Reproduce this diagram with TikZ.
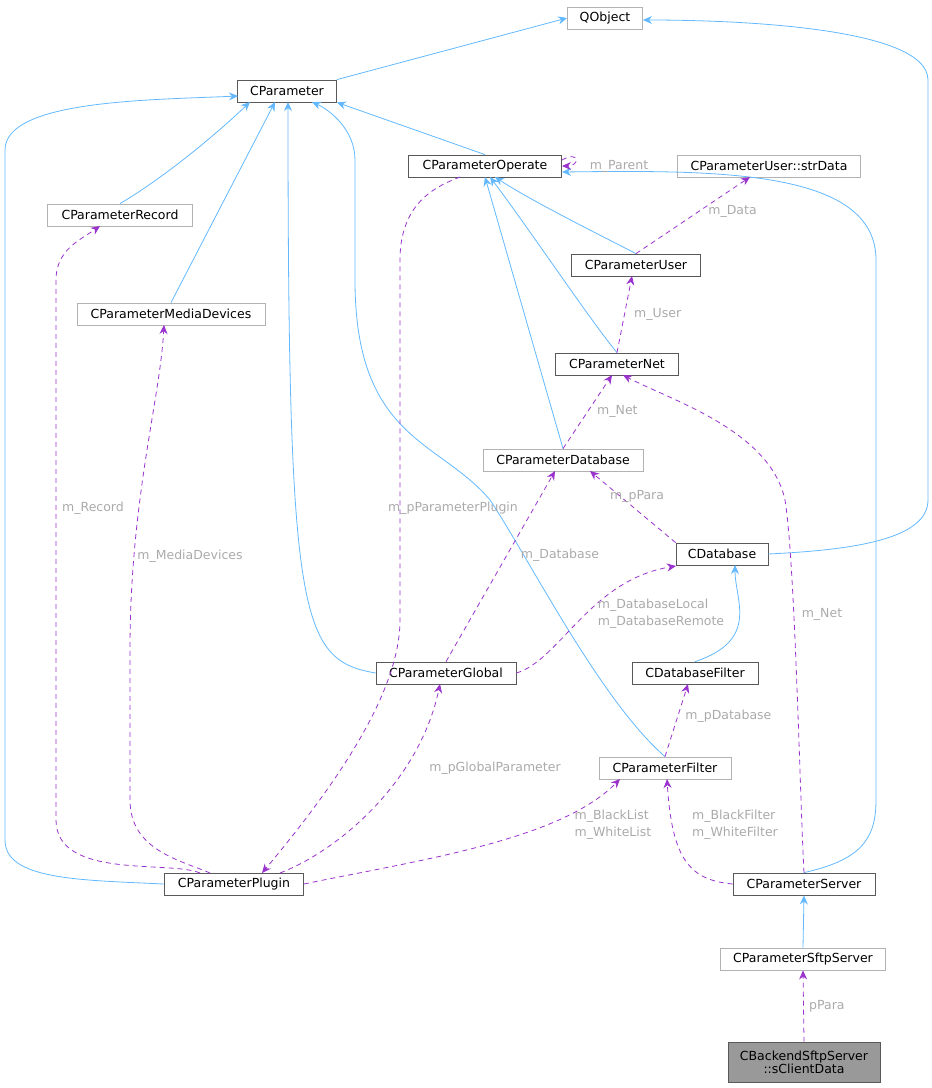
\documentclass[tikz,border=0pt]{standalone}
\usepackage{fontspec}
\setmainfont{DejaVu Sans}
\usetikzlibrary{arrows.meta}
\definecolor{inh}{HTML}{63B8FF}
\definecolor{use}{HTML}{9A32CD}
\definecolor{lab}{HTML}{AAAAAA}
\begin{document}
\begin{tikzpicture}[x=1pt,y=-1pt,
 box/.style={draw=#1,fill=white,minimum height=22pt,inner xsep=5pt,font=\fontsize{12.5}{14}\selectfont,line width=0.8pt},
 box/.default={black!65},
 lt/.style={box=black!30},
 inh/.style={draw=inh,line width=0.8pt,-{Stealth[length=9pt,width=8pt]}},
 use/.style={draw=use,line width=0.8pt,dashed,dash pattern=on 5pt off 4pt,-{Stealth[length=9pt,width=8pt]}},
 lb/.style={text=lab,font=\fontsize{12.5}{15}\selectfont,align=left}]
\useasboundingbox (0,0) rectangle (932,1088);
\node[lt,minimum width=75pt] (qo) at (605,18) {QObject};
\node[box,minimum width=99pt] (cp) at (287,91) {CParameter};
\node[box,minimum width=153pt] (op) at (485,166) {CParameterOperate};
\node[lt,minimum width=183pt] (sd) at (769,166) {CParameterUser::strData};
\node[lt,minimum width=145pt] (rec) at (120,215) {CParameterRecord};
\node[box,minimum width=129pt] (usr) at (636,265) {CParameterUser};
\node[lt,minimum width=188pt] (md) at (171,314) {CParameterMediaDevices};
\node[box,minimum width=123pt] (net) at (617,364) {CParameterNet};
\node[lt,minimum width=160pt] (db) at (563,460) {CParameterDatabase};
\node[box,minimum width=92pt] (cdb) at (722,554) {CDatabase};
\node[box,minimum width=140pt] (gl) at (446,673) {CParameterGlobal};
\node[box,minimum width=126pt] (dbf) at (695,673) {CDatabaseFilter};
\node[lt,minimum width=132pt] (flt) at (665,768) {CParameterFilter};
\node[box,minimum width=139pt] (pl) at (234,884) {CParameterPlugin};
\node[box,minimum width=142pt] (srv) at (804,884) {CParameterServer};
\node[lt,minimum width=165pt] (sftp) at (803,959) {CParameterSftpServer};
\node[box,fill=black!40,minimum width=152pt,minimum height=40pt,align=center,font=\fontsize{12.5}{13}\selectfont] (cd) at (804,1062) {CBackendSftpServer\\::sClientData};
% inheritance
\draw[inh] (cp.north east) -- (qo.west);
\draw[inh] (op.north) -- (cp.south east);
\draw[inh] (rec.north) .. controls (160,180) and (210,140) .. (250,102);
\draw[inh] (md.north) -- (275,102);
\draw[inh] (gl.west) .. controls (300,660) and (288,620) .. (288,102);
\draw[inh] (pl.west) .. controls (80,880) and (5,880) .. (5,840) -- (5,150) .. controls (5,100) and (150,100) .. (238,96);
\draw[inh] (flt.north) .. controls (600,700) and (530,560) .. (490,500) .. controls (440,440) and (355,440) .. (355,280) -- (355,160) .. controls (355,130) and (330,110) .. (312,102);
\draw[inh] (usr.north) .. controls (590,230) and (530,200) .. (495,177);
\draw[inh] (net.north) .. controls (590,320) and (530,230) .. (490,177);
\draw[inh] (db.north) -- (485,177);
\draw[inh] (srv.north) .. controls (860,860) and (876,840) .. (876,800) -- (876,260) .. controls (876,170) and (720,170) .. (562,172);
\draw[inh] (cdb.east) .. controls (850,550) and (928,540) .. (928,500) -- (928,80) .. controls (928,25) and (720,20) .. (643,20);
\draw[inh] (dbf.north) .. controls (760,640) and (735,600) .. (735,565);
\draw[inh] (sftp.north) -- (srv.south);
% usage
\draw[use] (562,160) .. controls (580,150) and (580,166) .. (562,166);
\node[lb] at (619,166) {m\_Parent};
\draw[use] (usr.north) -- (750,177) node[lb,pos=0.55,right=6pt] {m\_Data};
\draw[use] (net.north) -- (632,276) node[lb,midway,right=6pt] {m\_User};
\draw[use] (db.north) -- (612,375) node[lb,midway,right=6pt] {m\_Net};
\draw[use] (cdb.north west) -- (590,471) node[lb,pos=0.45,above=4pt] {m\_pPara};
\draw[use] (srv.north) .. controls (800,800) and (795,560) .. (785,500) .. controls (770,430) and (670,400) .. (623,375);
\node[lb] at (822,614) {m\_Net};
\draw[use] (gl.north) -- (555,471);
\node[lb] at (560,555) {m\_Database};
\draw[use] (gl.east) .. controls (560,660) and (590,580) .. (676,566);
\node[lb] at (661,614) {m\_DatabaseLocal\\[2pt]m\_DatabaseRemote};
\draw[use] (flt.north) -- (688,684) node[lb,pos=0.55,right=4pt] {m\_pDatabase};
\draw[use] (srv.west) .. controls (690,880) and (672,860) .. (667,779);
\node[lb] at (735,825) {m\_BlackFilter\\[2pt]m\_WhiteFilter};
\draw[use] (pl.east) .. controls (420,860) and (560,840) .. (620,779);
\node[lb] at (613,825) {m\_BlackList\\[2pt]m\_WhiteList};
\draw[use] (280,873) .. controls (340,850) and (420,780) .. (440,684);
\node[lb] at (495,768) {m\_pGlobalParameter};
\draw[use] (460,177) .. controls (440,185) and (400,200) .. (400,260) -- (400,620) .. controls (400,690) and (340,780) .. (262,873);
\node[lb] at (453,508) {m\_pParameterPlugin};
\draw[use] (210,873) .. controls (180,860) and (130,850) .. (130,800) -- (130,650) .. controls (130,500) and (160,400) .. (164,325);
\node[lb] at (190,556) {m\_MediaDevices};
\draw[use] (200,873) .. controls (170,860) and (56,880) .. (56,820) -- (56,280) .. controls (56,250) and (80,240) .. (100,226);
\node[lb] at (93,508) {m\_Record};
\draw[use] (cd.north) -- (sftp.south) node[lb,midway,right=2pt] {pPara};
\end{tikzpicture}
\end{document}
